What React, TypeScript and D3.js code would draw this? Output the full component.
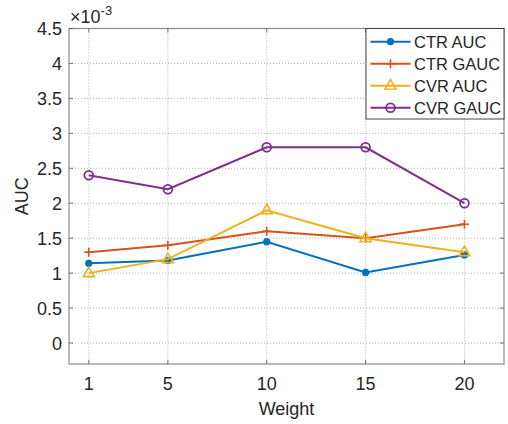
import React from 'react'
import * as d3 from 'd3'

const weights = [1, 5, 10, 15, 20]
const ctrAuc = [1.14, 1.18, 1.45, 1.01, 1.26]
const ctrGauc = [1.3, 1.4, 1.6, 1.5, 1.7]
const cvrAuc = [1.0, 1.2, 1.9, 1.5, 1.3]
const cvrGauc = [2.4, 2.2, 2.8, 2.8, 2.0]
const yTicks = [0, 0.5, 1, 1.5, 2, 2.5, 3, 3.5, 4, 4.5]

const seriesNames = ['CTR AUC', 'CTR GAUC', 'CVR AUC', 'CVR GAUC']
const seriesValues = [ctrAuc, ctrGauc, cvrAuc, cvrGauc]
const seriesColors = ['#0072BD', '#D95319', '#EDB120', '#7E2F8E']
const seriesMarkers = ['dot', 'plus', 'triangle', 'circle']

const W = 508
const H = 424
const left = 69
const right = 504
const top = 28.5
const bottom = 364
const font = 'Liberation Sans, Arial, Helvetica, sans-serif'
const ink = '#262626'

function Marker({ kind, x, y, color }: { kind: string; x: number; y: number; color: string }) {
  if (kind === 'dot') return <circle cx={x} cy={y} r={3.6} fill={color} />
  if (kind === 'plus')
    return (
      <path d={`M${x - 4.5},${y}H${x + 4.5}M${x},${y - 4.5}V${y + 4.5}`} stroke={color} strokeWidth={1.6} />
    )
  if (kind === 'triangle')
    return (
      <path
        d={`M${x},${y - 6}L${x + 5.5},${y + 3.5}L${x - 5.5},${y + 3.5}Z`}
        fill="none"
        stroke={color}
        strokeWidth={1.6}
      />
    )
  return <circle cx={x} cy={y} r={4.4} fill="none" stroke={color} strokeWidth={1.8} />
}

export default function App() {
  const x = d3.scaleLinear().domain([0, 22]).range([left, right])
  const y = d3.scaleLinear().domain([-0.3, 4.5]).range([bottom, top])
  const line = d3
    .line<number>()
    .x((_, i) => x(weights[i]))
    .y((d) => y(d))

  const legX = 366
  const legY = top
  const legW = right - legX
  const legH = 90.5
  const rowY = (i: number) => 41.7 + i * 22

  return (
    <svg width={W} height={H} style={{ position: 'absolute', left: 0, top: 0, background: '#fff' }}>
      <rect x={left} y={top} width={right - left} height={bottom - top} fill="#fff" />
      {/* grid */}
      {weights.map((w) => (
        <line key={'gx' + w} x1={x(w)} x2={x(w)} y1={top} y2={bottom} stroke="#9a9a9a" strokeWidth={0.8} strokeDasharray="1,2" />
      ))}
      {yTicks.map((t) => (
        <line key={'gy' + t} x1={left} x2={right} y1={y(t)} y2={y(t)} stroke="#9a9a9a" strokeWidth={0.8} strokeDasharray="1,2" />
      ))}
      {/* box */}
      <rect x={left} y={top} width={right - left} height={bottom - top} fill="none" stroke="#8a8a8a" strokeWidth={1.2} />
      {/* ticks */}
      {weights.map((w) => (
        <g key={'tx' + w}>
          <line x1={x(w)} x2={x(w)} y1={bottom} y2={bottom - 4} stroke="#555" strokeWidth={0.8} />
          <line x1={x(w)} x2={x(w)} y1={top} y2={top + 4} stroke="#555" strokeWidth={0.8} />
          <text x={x(w)} y={bottom + 26} textAnchor="middle" fontFamily={font} fontSize={18} fill={ink}>
            {w}
          </text>
        </g>
      ))}
      {yTicks.map((t) => (
        <g key={'ty' + t}>
          <line x1={left} x2={left + 4} y1={y(t)} y2={y(t)} stroke="#555" strokeWidth={0.8} />
          <line x1={right} x2={right - 4} y1={y(t)} y2={y(t)} stroke="#555" strokeWidth={0.8} />
          <text x={left - 7} y={y(t) + 6.5} textAnchor="end" fontFamily={font} fontSize={18} fill={ink}>
            {t}
          </text>
        </g>
      ))}
      <text x={70} y={23} fontFamily={font} fontSize={18} fill={ink}>
        ×10<tspan dy={-8} fontSize={13}>-3</tspan>
      </text>
      <text x={(left + right) / 2} y={415} textAnchor="middle" fontFamily={font} fontSize={18} fill={ink}>
        Weight
      </text>
      <text
        transform={`translate(${28},${y(2.1)}) rotate(-90)`}
        textAnchor="middle"
        fontFamily={font}
        fontSize={18}
        fill={ink}
      >
        AUC
      </text>
      {/* series */}
      {seriesValues.map((vals, si) => (
        <g key={seriesNames[si]}>
          <path d={line(vals) || ''} fill="none" stroke={seriesColors[si]} strokeWidth={2} />
          {vals.map((v, i) => (
            <Marker key={i} kind={seriesMarkers[si]} x={x(weights[i])} y={y(v)} color={seriesColors[si]} />
          ))}
        </g>
      ))}
      {/* legend */}
      <rect x={legX} y={legY} width={legW} height={legH} fill="#fff" stroke="#333" strokeWidth={0.9} />
      {seriesNames.map((n, i) => (
        <g key={'lg' + n}>
          <line x1={370.5} x2={410.5} y1={rowY(i)} y2={rowY(i)} stroke={seriesColors[i]} strokeWidth={2} />
          <Marker kind={seriesMarkers[i]} x={390.5} y={rowY(i)} color={seriesColors[i]} />
          <text x={414} y={rowY(i) + 6} fontFamily={font} fontSize={16.5} fill={ink}>
            {n}
          </text>
        </g>
      ))}
    </svg>
  )
}
